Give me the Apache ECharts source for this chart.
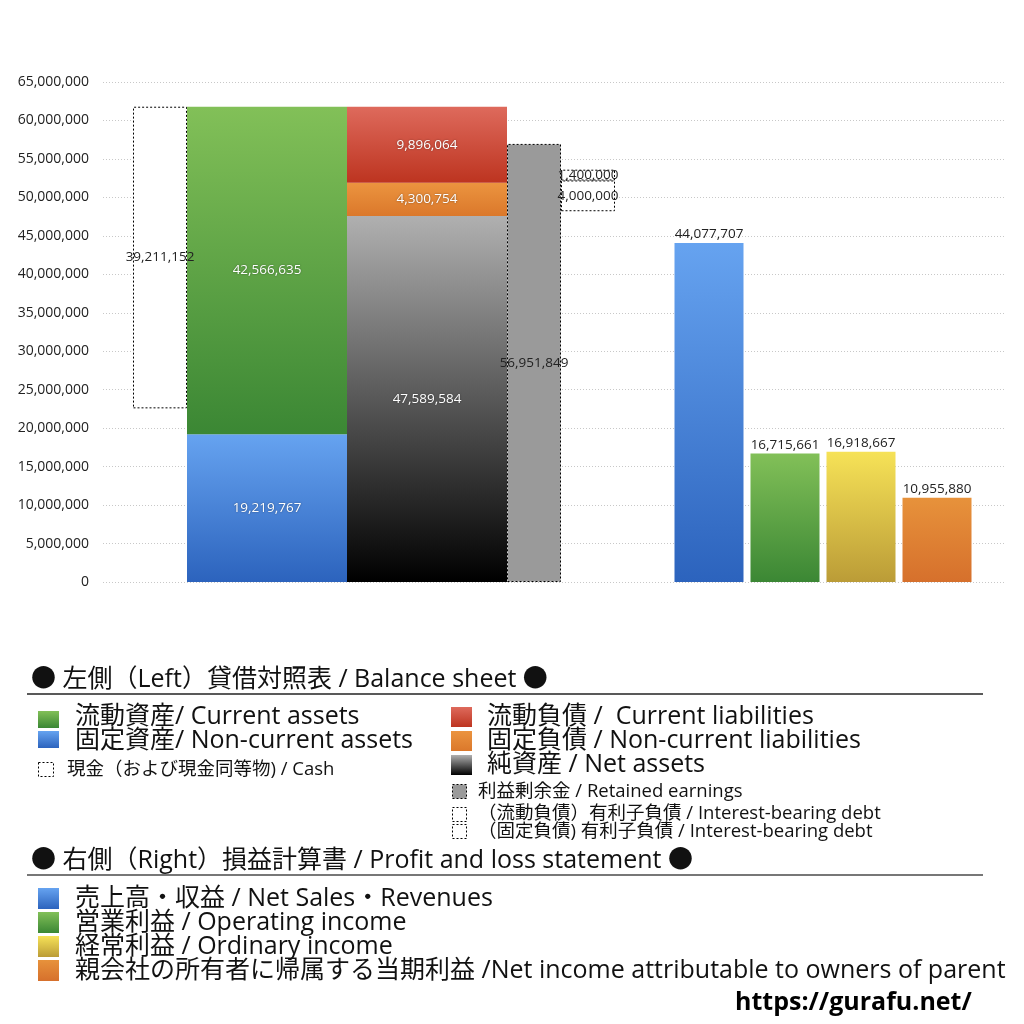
<!DOCTYPE html>
<html>
<head>
<meta charset="utf-8">
<script src="https://cdn.jsdelivr.net/npm/echarts@6/dist/echarts.min.js"></script>
<style>html,body{margin:0;padding:0;background:#fff}#c{width:1024px;height:1024px}</style>
</head>
<body>
<div id="c"></div>
<script>
// ---------- data ----------
const yMin = 0;
const yMax = 65000000;
const yInterval = 5000000;

const bsCategories = ['貸借対照表'];
const cash = [39211152];
const currentAssets = [42566635];
const nonCurrentAssets = [19219767];
const currentLiabilities = [9896064];
const nonCurrentLiabilities = [4300754];
const netAssets = [47589584];
const retainedEarnings = [56951849];
const ibdNonCurrent = [4000000];
const ibdCurrent = [1400000];
const ibdOffset = [48200000];      // invisible placement under the interest-bearing debt boxes

const plCategories = ['売上高・収益', '営業利益', '経常利益', '親会社の所有者に帰属する当期利益'];
const plValues = [44077707, 16715661, 16918667, 10955880];

// cash box hangs from the top of total assets
const cashOffset = [currentAssets[0] + nonCurrentAssets[0] - cash[0]];

// ---------- helpers ----------
const fmt = v => String(Math.round(v)).replace(/\B(?=(\d{3})+(?!\d))/g, ',');
const grad = (top, bottom) => new echarts.graphic.LinearGradient(0, 0, 0, 1, [
  { offset: 0, color: top }, { offset: 1, color: bottom }]);

const C = {
  green: ['#82c058', '#3b8734'],
  blue: ['#66a3f0', '#2c63bd'],
  red: ['#de6a5c', '#bd3420'],
  orange: ['#eb943f', '#db782b'],
  net: ['#b0b0b0', '#000000'],
  yellow: ['#f6e257', '#bb9c37'],
  orange2: ['#e7923b', '#d6702c']
};

const FONT = '"Open Sans", "Noto Sans CJK JP", sans-serif';
const LBL = 13.5;
const whiteLabel = {
  show: true, position: 'inside', color: '#fff', fontSize: LBL, fontFamily: FONT,
  textShadowColor: 'rgba(0,0,0,0.45)', textShadowBlur: 2,
  formatter: p => fmt(p.value)
};
const darkLabel = {
  show: true, position: 'inside', color: '#222', fontSize: LBL, fontFamily: FONT,
  formatter: p => fmt(p.value)
};
const dashed = { color: '#fff', borderColor: '#000', borderWidth: 1, borderType: [2, 2] };

const GT = 82, GB = 442;
const grids = [
  { left: 103, right: 19, top: GT, bottom: GB },   // axis + gridlines
  { left: 133, right: 409, top: GT, bottom: GB },  // balance sheet group
  { left: 671, right: 49, top: GT, bottom: GB }    // P&L group
];
const yAxisBase = { type: 'value', min: yMin, max: yMax, interval: yInterval };

const BS = { xAxisIndex: 1, yAxisIndex: 1, type: 'bar', barGap: '0%' };
const series = [
  Object.assign({}, BS, { name: 'cashOffset', stack: 'cash', barWidth: 54, data: cashOffset,
    itemStyle: { color: 'rgba(0,0,0,0)' }, label: { show: false }, silent: true }),
  Object.assign({}, BS, { name: '現金', stack: 'cash', barWidth: 54, data: cash,
    itemStyle: dashed, label: darkLabel }),
  Object.assign({}, BS, { name: '固定資産', stack: 'assets', barWidth: 160, data: nonCurrentAssets,
    itemStyle: { color: grad(C.blue[0], C.blue[1]) }, label: whiteLabel }),
  Object.assign({}, BS, { name: '流動資産', stack: 'assets', barWidth: 160, data: currentAssets,
    itemStyle: { color: grad(C.green[0], C.green[1]) }, label: whiteLabel }),
  Object.assign({}, BS, { name: '純資産', stack: 'liab', barWidth: 160, data: netAssets,
    itemStyle: { color: grad(C.net[0], C.net[1]) }, label: whiteLabel }),
  Object.assign({}, BS, { name: '固定負債', stack: 'liab', barWidth: 160, data: nonCurrentLiabilities,
    itemStyle: { color: grad(C.orange[0], C.orange[1]) }, label: whiteLabel }),
  Object.assign({}, BS, { name: '流動負債', stack: 'liab', barWidth: 160, data: currentLiabilities,
    itemStyle: { color: grad(C.red[0], C.red[1]) }, label: whiteLabel }),
  Object.assign({}, BS, { name: '利益剰余金', stack: 'ret', barWidth: 54, data: retainedEarnings,
    itemStyle: { color: '#9a9a9a', borderColor: '#000', borderWidth: 1, borderType: [2, 2] }, label: darkLabel }),
  Object.assign({}, BS, { name: 'ibdOffset', stack: 'ibd', barWidth: 54, data: ibdOffset,
    itemStyle: { color: 'rgba(0,0,0,0)' }, label: { show: false }, silent: true }),
  Object.assign({}, BS, { name: '（固定負債）有利子負債', stack: 'ibd', barWidth: 54, data: ibdNonCurrent,
    itemStyle: dashed, label: darkLabel }),
  Object.assign({}, BS, { name: '（流動負債）有利子負債', stack: 'ibd', barWidth: 54, data: ibdCurrent,
    itemStyle: dashed, label: darkLabel }),
  {
    name: '損益計算書', type: 'bar', xAxisIndex: 2, yAxisIndex: 2, barWidth: 69,
    data: plValues.map((v, i) => ({
      value: v,
      itemStyle: { color: grad(...[C.blue, C.green, C.yellow, C.orange2][i]) }
    })),
    label: { show: true, position: 'top', distance: 2, color: '#222', fontSize: LBL, fontFamily: FONT,
      formatter: p => fmt(p.value) }
  }
];

// ---------- legend (custom, drawn as graphics) ----------
const g = [];
const txt = (x, y, text, size, extra) => g.push({
  type: 'text', x: x, y: y,
  style: Object.assign({ text: text, fill: '#111', font: size + 'px ' + FONT, verticalAlign: 'middle' }, extra || {})
});
const box = (x, y, w, h, fill) => g.push({
  type: 'rect', shape: { x: x, y: y, width: w, height: h }, style: { fill: fill }
});
const dbox = (x, y, w, h, fill) => g.push({
  type: 'rect', shape: { x: x + 0.5, y: y + 0.5, width: w, height: h },
  style: { fill: fill || '#fff', stroke: '#000', lineWidth: 1, lineDash: [2, 2] }
});

const HEAD = 25, ITEM = 25, SMALL = 18.5;

txt(31, 680, '● 左側（Left）貸借対照表 / Balance sheet ●', HEAD);
g.push({ type: 'line', shape: { x1: 27, y1: 694, x2: 983, y2: 694 }, style: { stroke: '#222', lineWidth: 1.5 } });

box(38, 711, 21, 17, grad(C.green[0], C.green[1]));
txt(75, 717, '流動資産/ Current assets', ITEM);
box(38, 731, 21, 17, grad(C.blue[0], C.blue[1]));
txt(75, 741, '固定資産/ Non-current assets', ITEM);
dbox(38, 762, 15, 14);
txt(67, 770, '現金（および現金同等物) / Cash', SMALL);

box(451, 707, 21, 20, grad(C.red[0], C.red[1]));
txt(487, 717, '流動負債 /  Current liabilities', ITEM);
box(451, 731, 21, 20, grad(C.orange[0], C.orange[1]));
txt(487, 741, '固定負債 / Non-current liabilities', ITEM);
box(451, 755, 21, 20, grad(C.net[0], C.net[1]));
txt(487, 765, '純資産 / Net assets', ITEM);
dbox(452, 784, 14, 14, '#9a9a9a');
txt(478, 792, '利益剰余金 / Retained earnings', SMALL);
dbox(452, 807, 14, 14);
txt(478, 814, '（流動負債）有利子負債 / Interest-bearing debt', SMALL);
dbox(452, 824, 14, 14);
txt(478, 832, '（固定負債) 有利子負債 / Interest-bearing debt', SMALL);

txt(31, 861, '● 右側（Right）損益計算書 / Profit and loss statement ●', HEAD);
g.push({ type: 'line', shape: { x1: 27, y1: 875, x2: 983, y2: 875 }, style: { stroke: '#777', lineWidth: 2 } });

box(38, 888, 21, 21, grad(C.blue[0], C.blue[1]));
txt(75, 899, '売上高・収益 / Net Sales・Revenues', ITEM);
box(38, 912, 21, 21, grad(C.green[0], C.green[1]));
txt(75, 923, '営業利益 / Operating income', ITEM);
box(38, 936, 21, 21, grad(C.yellow[0], C.yellow[1]));
txt(75, 947, '経常利益 / Ordinary income', ITEM);
box(38, 960, 21, 21, grad(C.orange2[0], C.orange2[1]));
txt(75, 971, '親会社の所有者に帰属する当期利益 /Net income attributable to owners of parent', ITEM);

txt(735, 1003, 'https://gurafu.net/', 25, { font: 'bold 25px ' + FONT, fill: '#000' });

// ---------- chart ----------
const chart = echarts.init(document.getElementById('c'), null, { renderer: 'canvas' });
chart.setOption({
  backgroundColor: '#fff',
  animation: false,
  grid: grids,
  xAxis: [
    { gridIndex: 0, type: 'category', data: [''], show: false },
    { gridIndex: 1, type: 'category', data: bsCategories, show: false },
    { gridIndex: 2, type: 'category', data: plCategories, show: false }
  ],
  yAxis: [
    Object.assign({ gridIndex: 0 }, yAxisBase, {
      axisLine: { show: false }, axisTick: { show: false },
      axisLabel: { color: '#222', fontSize: 14, fontFamily: FONT, margin: 14, formatter: v => fmt(v) },
      splitLine: { show: true, lineStyle: { color: '#c8c8c8', type: [1, 2], width: 1 } }
    }),
    Object.assign({ gridIndex: 1, show: false }, yAxisBase, { splitLine: { show: false } }),
    Object.assign({ gridIndex: 2, show: false }, yAxisBase, { splitLine: { show: false } })
  ],
  series: series,
  graphic: g
});
</script>
</body>
</html>
